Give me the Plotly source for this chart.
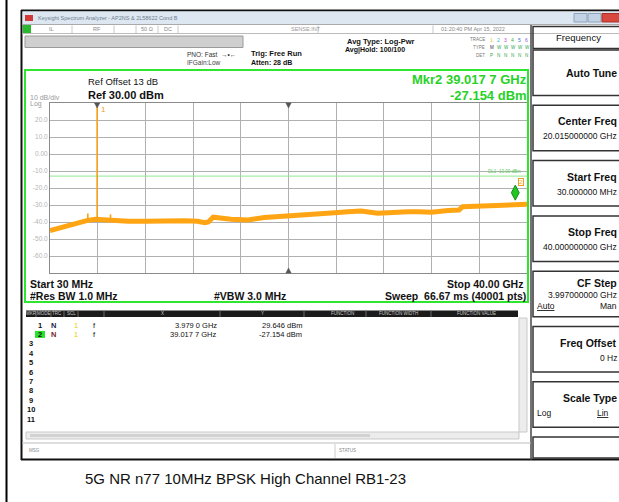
import plotly.graph_objects as go

# ---------------- trace data (GHz, dBm) ----------------
freq_ghz = [0.03, 0.5, 1.0, 1.5, 2.0, 2.4, 3.1, 3.8, 4.2, 5.2, 6.6, 8.0, 9.0, 9.9,
            11.3, 12.4, 13.0, 13.3, 13.7, 15.2, 16.6, 18.0, 19.0, 20.0, 21.4,
            22.5, 23.9, 25.0, 26.1, 27.5, 28.5, 30.0, 31.0, 32.0, 33.4, 34.3,
            34.6, 35.5, 36.7, 38.2, 39.0, 40.0]
level_dbm = [-45.1, -44.2, -43.3, -42.2, -41.2, -40.2, -39.2, -38.4, -38.6, -39.2,
             -39.6, -39.6, -39.4, -39.0, -39.2, -39.6, -40.4, -40.0, -37.2, -38.4,
             -38.8, -37.4, -36.8, -36.2, -35.9, -35.4, -34.5, -34.0, -33.5, -34.9,
             -34.4, -33.9, -34.0, -34.3, -33.3, -33.0, -31.0, -30.8, -30.4, -30.0,
             -29.8, -29.6]

# narrow spurs rising out of the noise floor
spur_freq_ghz = [3.2, 3.979, 5.1]
spur_base_dbm = [-39.2, -38.4, -39.2]
spur_peak_dbm = [-35.0, 29.646, -35.5]

# marker table
marker_freq_ghz = [3.979, 39.0177]
marker_level_dbm = [29.646, -27.154]
marker_x_text = ["3.979 0 GHz", "39.017 7 GHz"]
marker_y_text = ["29.646 dBm", "-27.154 dBm"]

center_freq_ghz = 20.015
display_line_dbm = -13.0
y_tick_vals = [20, 10, 0, -10, -20, -30, -40, -50, -60]
y_tick_text = ["20.0", "10.0", "0.00", "-10.0", "-20.0", "-30.0", "-40.0", "-50.0", "-60.0"]

softkey_labels = ["Auto Tune", "Center Freq", "Start Freq", "Stop Freq", "CF Step",
                  "Freq Offset", "Scale Type"]
softkey_values = ["", "20.015000000 GHz", "30.000000 MHz", "40.000000000 GHz",
                  "3.997000000 GHz", "0 Hz", ""]

caption = "5G NR n77 10MHz BPSK High Channel RB1-23"

# ---------------- page geometry helpers ----------------
W, H = 619, 502
F = "Liberation Sans"


def px(x):
    return x / W


def py(y):
    return 1 - y / H


shapes = []
annotations = []


def rect(x0, y0, x1, y1, fill="rgba(0,0,0,0)", line=None, lw=1, layer="below"):
    shapes.append(dict(type="rect", xref="paper", yref="paper",
                       x0=px(x0), x1=px(x1), y0=py(y1), y1=py(y0),
                       fillcolor=fill, layer=layer,
                       line=dict(color=line or "rgba(0,0,0,0)", width=lw if line else 0)))


def hline(x0, x1, y, color, lw=1, layer="below"):
    shapes.append(dict(type="line", xref="paper", yref="paper",
                       x0=px(x0), x1=px(x1), y0=py(y), y1=py(y), layer=layer,
                       line=dict(color=color, width=lw)))


def vline(x, y0, y1, color, lw=1, layer="below"):
    shapes.append(dict(type="line", xref="paper", yref="paper",
                       x0=px(x), x1=px(x), y0=py(y0), y1=py(y1), layer=layer,
                       line=dict(color=color, width=lw)))


def text(x, y, s, size, color="#000", anchor="left", bold=False, family=F):
    annotations.append(dict(xref="paper", yref="paper", x=px(x), y=py(y),
                            text=f"<b>{s}</b>" if bold else s, showarrow=False,
                            xanchor=anchor, yanchor="middle", borderpad=0,
                            font=dict(size=size, color=color, family=family)))


# ---------------- page frame and window chrome ----------------
vline(6.5, 0, 502, "#000", 2)
rect(22, 10, 640, 460, fill="#ffffff")
hline(21, 640, 10.5, "#111", 2)
vline(21.5, 10, 460, "#111", 2)
hline(21, 640, 459.5, "#111", 2)

# title bar
rect(22.5, 11.5, 640, 24, fill="#dde7f1")
rect(25, 15, 33, 21, fill="#d23a3a")
text(37, 18, "Keysight Spectrum Analyzer - AP2NS &amp; 2L58622 Cond B", 5.5, "#6d7d90")
rect(574, 13.5, 587, 22, fill="#c3d3e6", line="#8fa3bb")
rect(588, 13.5, 601, 22, fill="#c3d3e6", line="#8fa3bb")
rect(602, 13.5, 625, 22, fill="#d9483f", line="#a83028")

# status row
hline(22, 640, 24.5, "#aaa", 1)
hline(22, 640, 33.5, "#bbb", 1)
rect(23, 25, 31, 33, fill="#29b82f")
for xs in [72, 114, 136, 158, 178, 318, 433]:
    vline(xs, 25.5, 33, "#c8c8c8", 1)
text(48, 29.3, "IL", 5.5, "#888")
text(92, 29.3, "RF", 5.5, "#888")
text(140, 29.3, "50 Ω", 5.5, "#888")
text(163, 29.3, "DC", 5.5, "#888")
text(290, 29.3, "SENSE:INT", 5.5, "#999")
text(440, 29.3, "01:20:40 PM Apr 15, 2022", 5.5, "#888")

# header block
rect(25, 36, 243, 47.5, fill="#cfcfcf", line="#9a9a9a")
text(186, 54, "PNO: Fast  →•←", 6.5, "#333")
text(186, 62, "IFGain:Low", 6.5, "#444")
text(250, 53.5, "Trig: Free Run", 7.5, "#111", bold=True)
text(250, 62.5, "Atten: 28 dB", 7, "#111", bold=True)
text(346, 41.5, "Avg Type: Log-Pwr", 7.5, "#111", bold=True)
text(344, 50, "Avg|Hold: 100/100", 7, "#111", bold=True)
text(486, 39.5, "TRACE", 4.5, "#777", anchor="right")
text(486, 47.5, "TYPE", 4.5, "#777", anchor="right")
text(486, 55.5, "DET", 4.5, "#777", anchor="right")
trace_colors = ["#e3c800", "#1fb6d6", "#d23cd2", "#2fb82f", "#3b6fe0", "#9b59d6"]
for i, c in enumerate(trace_colors):
    text(489 + i * 7, 39.5, str(i + 1), 5, c)
    text(489 + i * 7, 47.5, "M" if i == 0 else "W", 4.5, "#2fa84f" if i else "#333")
    text(489 + i * 7, 55.5, "P" if i == 0 else "N", 4.5, "#2fa84f")

# display frame (green)
rect(25, 70, 528, 302, line="#2ee62e", lw=2, layer="above")
vline(531, 25, 460, "#444", 1.5)

text(87, 82, "Ref Offset 13 dB", 9.5, "#111")
text(87, 95, "Ref 30.00 dBm", 11, "#111", bold=True)
text(29, 97.5, "10 dB/div", 7, "#9a9a9a")
text(29, 103.5, "Log", 7, "#9a9a9a")
text(528, 80, f"Mkr2 {marker_x_text[1]}", 13, "#27d127", anchor="right", bold=True)
text(528, 95, marker_y_text[1], 13, "#27d127", anchor="right", bold=True)

text(29, 283.5, "Start 30 MHz", 10.5, "#111", bold=True)
text(29, 295.5, "#Res BW 1.0 MHz", 10.5, "#111", bold=True)
text(213, 295.5, "#VBW 3.0 MHz", 10.5, "#111", bold=True)
text(524, 283.5, "Stop 40.00 GHz", 10.5, "#111", anchor="right", bold=True)
text(527, 295.5, "Sweep  66.67 ms (40001 pts)", 10.5, "#111", anchor="right", bold=True)

# ---------------- marker table ----------------
rect(26, 310.5, 518, 317, fill="#1b1b1b")
for xs in [36, 51, 64, 78, 104, 220, 304, 366, 431]:
    vline(xs, 310.5, 317, "#6a6a6a", 1)
hdr = [(31, "MKR"), (43.5, "MODE"), (57.5, "TRC"), (71, "SCL"), (162, "X"),
       (262, "Y"), (342, "FUNCTION"), (398, "FUNCTION WIDTH"), (476, "FUNCTION VALUE")]
for xc, s in hdr:
    text(xc, 313.8, s, 4.5, "#c8c8c8", anchor="center")

row_y0, row_dy = 325, 9.4
rect(35, row_y0 + row_dy - 3.5, 45, row_y0 + row_dy + 3.5, fill="#29e229")
for i in range(11):
    yy = row_y0 + i * row_dy
    text(40 if i < 2 else 31, yy, str(i + 1), 7.5, "#111", anchor="center", bold=True)
for i in range(len(marker_x_text)):
    yy = row_y0 + i * row_dy
    text(53, yy, "N", 7.5, "#7a1f1f" if i == 1 else "#1f1f4a", anchor="center", bold=True)
    text(76, yy, "1", 7.5, "#e6d000", anchor="center")
    text(94, yy, "f", 7.5, "#111", anchor="center")
    text(218, yy, marker_x_text[i], 7.5, "#111", anchor="right")
    text(303, yy, marker_y_text[i], 7.5, "#111", anchor="right")

rect(519, 318, 527, 432, fill="#ececec", line="#c9c9c9")
rect(26, 432, 519, 439, fill="#ececec", line="#c9c9c9")
rect(30, 434, 370, 437, fill="#d2d2d2")
hline(22, 531, 443, "#bdbdbd", 1)
text(28, 450.5, "MSG", 4.5, "#888")
vline(335, 444, 458, "#cccccc", 1)
text(338, 450.5, "STATUS", 4.5, "#888")

# ---------------- softkey panel ----------------
KR = 617.5  # right edge used for softkey text
rect(533, 26.5, 640, 48.5, line="#333", lw=1.5)
text(578, 37.5, "Frequency", 9.5, "#111", anchor="center")
key_top, key_pitch, key_h = 50, 55.3, 45.5
for i, (lab, val) in enumerate(zip(softkey_labels, softkey_values)):
    top = key_top + i * key_pitch
    rect(533, top, 640, top + key_h, line="#333", lw=1.5)
    if lab == "Auto Tune":
        text(KR, top + key_h / 2, lab, 10.5, "#111", anchor="right", bold=True)
    elif lab == "CF Step":
        text(KR, top + 12, lab, 10.5, "#111", anchor="right", bold=True)
        text(KR, top + 23.5, val, 8.5, "#111", anchor="right")
        text(536, top + 34.5, "<u>Auto</u>", 8.5, "#111")
        text(KR, top + 34.5, "Man", 8.5, "#111", anchor="right")
    elif lab == "Scale Type":
        text(KR, top + 16, lab, 10.5, "#111", anchor="right", bold=True)
        text(536, top + 31, "Log", 8.5, "#111")
        text(610, top + 31, "<u>Lin</u>", 8.5, "#111", anchor="right")
    else:
        text(KR, top + 16, lab, 10.5, "#111", anchor="right", bold=True)
        text(KR, top + 31, val, 8.5, "#111", anchor="right")
rect(533, key_top + 7 * key_pitch, 640, 458, line="#333", lw=1.5)

# caption
text(245, 478, caption, 15, "#111", anchor="center")

# ---------------- traces ----------------
fig = go.Figure()

fig.add_trace(go.Scatter(x=[0.03, 40.0], y=[display_line_dbm, display_line_dbm],
                         mode="lines", line=dict(color="#8fe88f", width=1),
                         hoverinfo="skip", showlegend=False))

fig.add_trace(go.Scatter(x=freq_ghz, y=level_dbm, mode="lines",
                         line=dict(color="#ffa514", width=5),
                         showlegend=False))

sx, sy = [], []
for f, b, p in zip(spur_freq_ghz, spur_base_dbm, spur_peak_dbm):
    sx += [f, f, None]
    sy += [b, p, None]
fig.add_trace(go.Scatter(x=sx, y=sy, mode="lines",
                         line=dict(color="#f5a21a", width=1.6), showlegend=False))

# small frequency pointers on the graticule edges (marker 1 and centre)
tw = 0.22
for fx, at_top in [(marker_freq_ghz[0], True), (center_freq_ghz, True), (center_freq_ghz, False)]:
    if at_top:
        y0, y1 = py(103), py(108)
    else:
        y0, y1 = py(273), py(268)
    shapes.append(dict(type="path", xref="x", yref="paper", layer="above",
                       path=f"M {fx - tw},{y0} L {fx + tw},{y0} L {fx},{y1} Z",
                       fillcolor="#555", line=dict(color="#555", width=0.5)))

# marker 2 diamond sitting on the marker level
mf, ml = marker_freq_ghz[1], marker_level_dbm[1]
dxg, dyd = 0.33, 4.4
shapes.append(dict(type="path", xref="x", yref="y", layer="above",
                   path=f"M {mf},{ml} L {mf - dxg},{ml + dyd} L {mf},{ml + 2 * dyd} "
                        f"L {mf + dxg},{ml + dyd} Z",
                   fillcolor="#22c622", line=dict(color="#178a17", width=1)))
annotations.append(dict(x=mf, y=ml, xref="x", yref="y", text="2", showarrow=False,
                        xshift=6, yshift=18, font=dict(size=6, color="#f0a020", family=F),
                        bordercolor="#f0a020", borderwidth=1, borderpad=0))
annotations.append(dict(x=marker_freq_ghz[0], y=marker_level_dbm[0], xref="x", yref="y",
                        text="1", showarrow=False, xshift=6, yshift=-6,
                        font=dict(size=8, color="#f0a020", family=F)))
annotations.append(dict(x=40.0, y=display_line_dbm, xref="x", yref="y",
                        text="DL1 -13.00 dBm", showarrow=False, xanchor="right",
                        yanchor="bottom", xshift=-4,
                        font=dict(size=4.5, color="#55cc55", family=F)))

fig.update_layout(
    width=W, height=H, margin=dict(l=0, r=0, t=0, b=0),
    paper_bgcolor="#ffffff", plot_bgcolor="#ffffff",
    shapes=shapes, annotations=annotations, showlegend=False,
    xaxis=dict(domain=[px(50), px(527)], range=[0.03, 40.0], tick0=0.03, dtick=3.997,
               showgrid=True, gridcolor="#b0b0b0", gridwidth=1, zeroline=False,
               showticklabels=False, ticks="", showline=True, mirror=True,
               linecolor="#8a8a8a", linewidth=1),
    yaxis=dict(domain=[py(273), py(103)], range=[-70, 30], tickvals=y_tick_vals,
               ticktext=y_tick_text, showgrid=True, gridcolor="#b0b0b0", gridwidth=1,
               zeroline=False, ticks="", showline=True, mirror=True,
               linecolor="#8a8a8a", linewidth=1,
               tickfont=dict(size=6.5, color="#b5b5b5", family=F)),
)

fig.write_html("out.html")
